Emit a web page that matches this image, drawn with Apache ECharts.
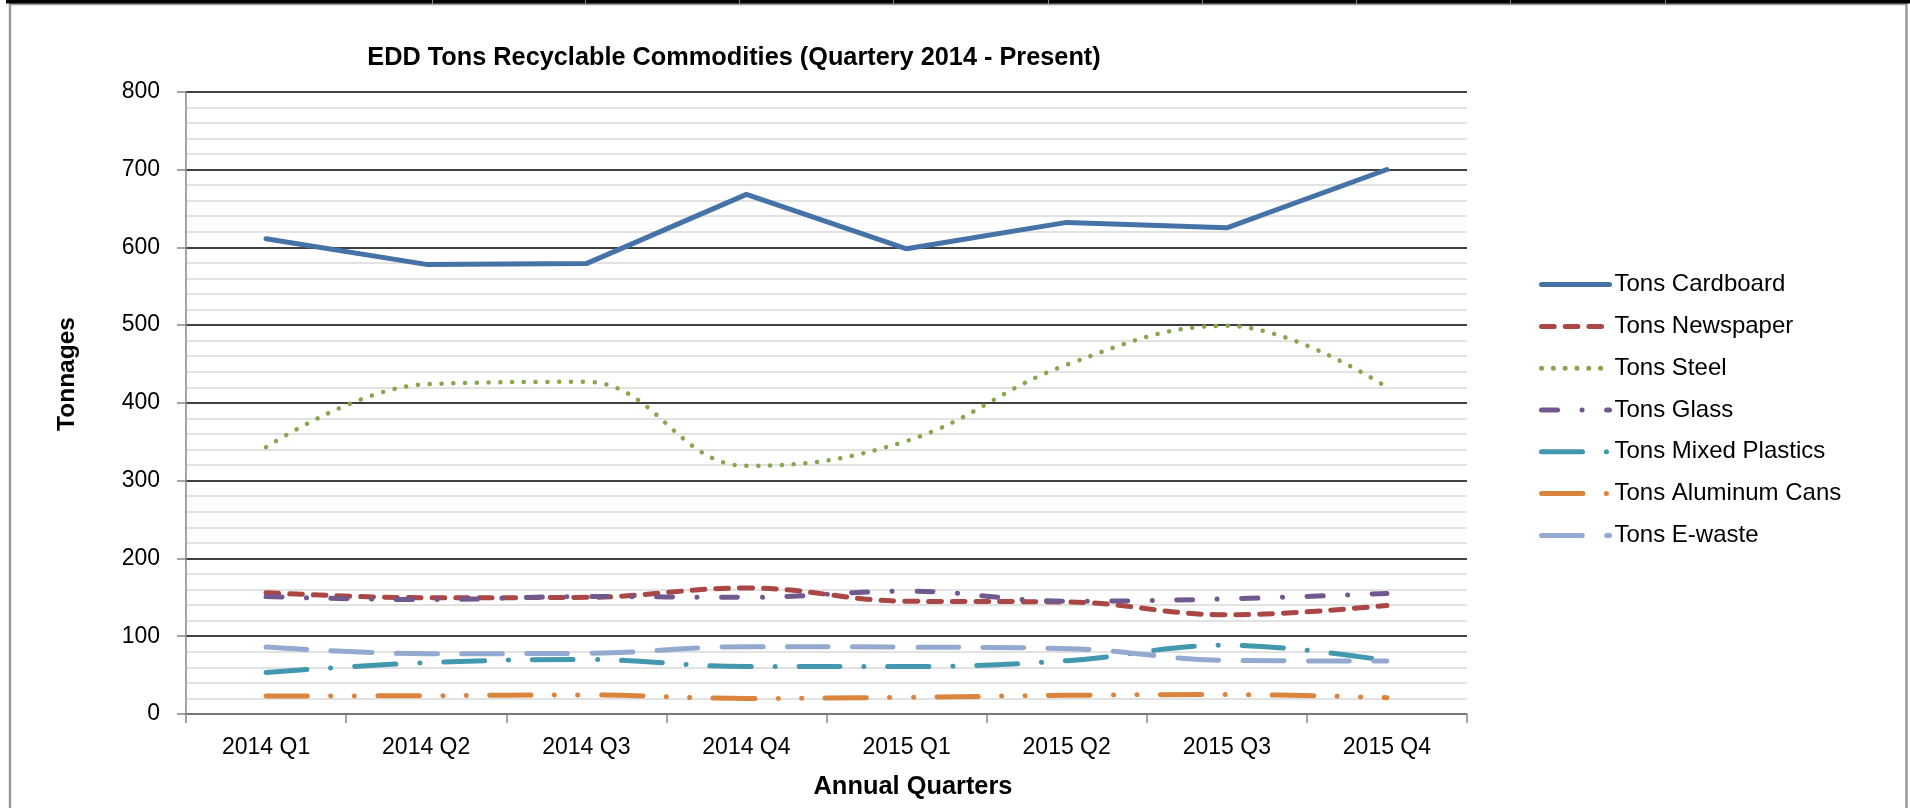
<!DOCTYPE html>
<html><head><meta charset="utf-8">
<script src="https://cdn.jsdelivr.net/npm/echarts@6/dist/echarts.min.js"></script>
<style>html,body{margin:0;padding:0;background:#fff;overflow:hidden}#c{width:1910px;height:808px}</style>
</head><body><div id="c"></div>
<script>
const categories = ['2014 Q1', '2014 Q2', '2014 Q3', '2014 Q4', '2015 Q1', '2015 Q2', '2015 Q3', '2015 Q4'];
const cardboard     = [611, 578, 579, 668, 598, 632, 625, 700];
const newspaper     = [156, 149.5, 150, 162, 145, 144, 127.5, 139.5];
const steel         = [343, 424, 427, 319, 351, 449, 499, 420];
const glass         = [151, 147, 151, 150, 158, 145, 148, 155];
const mixedPlastics = [53.5, 66, 70, 61, 61, 68.5, 88.5, 68.5];
const aluminumCans  = [23, 23.5, 24.5, 20, 21.5, 24, 25, 21];
const eWaste        = [86, 77.5, 78, 86.5, 86, 84, 69, 68];
const seriesNames = ['Tons Cardboard', 'Tons Newspaper', 'Tons Steel', 'Tons Glass', 'Tons Mixed Plastics', 'Tons Aluminum Cans', 'Tons E-waste'];
const yMin = 0, yMax = 800, yInterval = 100;
const titleText = 'EDD Tons Recyclable Commodities (Quartery 2014 - Present)';
const xAxisTitle = 'Annual Quarters';
const yAxisTitle = 'Tonnages';

const FONT = "'Liberation Sans', Arial, sans-serif";
const styles = [
  { color: '#4572A7', type: 'solid', width: 5, smooth: false },
  { color: '#AA4643', type: [12.7, 11], width: 5, smooth: 0.4 },
  { color: '#89A54E', type: [0.1, 11.7], width: 4.5, smooth: 0.4 },
  { color: '#71588F', type: [16, 24.5, 0.1, 24.5], width: 5, smooth: 0.4 },
  { color: '#4198AF', type: [41, 23.9, 0.1, 23.9], width: 5, smooth: 0.4 },
  { color: '#DB843D', type: [41.4, 23.4, 0.1, 23.4, 0.1, 23.4], width: 5, smooth: 0.4 },
  { color: '#93A9CF', type: [40.8, 24.4], width: 5, smooth: 0.4 }
];
const values = [cardboard, newspaper, steel, glass, mixedPlastics, aluminumCans, eWaste];

const series = values.map((v, i) => ({
  name: seriesNames[i],
  type: 'line',
  data: v,
  symbol: 'none',
  showSymbol: false,
  smooth: styles[i].smooth,
  color: styles[i].color,
  lineStyle: { color: styles[i].color, width: styles[i].width, type: styles[i].type, cap: 'round', join: 'round' },
  emphasis: { disabled: true },
  animation: false
}));

const topTicks = [432, 585, 739, 893, 1048, 1202, 1356, 1510, 1665];
const graphics = [
  { type: 'rect', shape: { x: 10, y: 4, width: 1896.5, height: 820 }, style: { fill: 'none', stroke: '#9a9a9a', lineWidth: 2.5 }, silent: true },
  { type: 'rect', shape: { x: 6, y: 0, width: 1904, height: 3.5 }, style: { fill: '#000' }, silent: true },
  ...topTicks.map(x => ({ type: 'rect', shape: { x: x, y: 0, width: 1, height: 4 }, style: { fill: '#888' }, silent: true })),
  { type: 'text', x: 67, y: 374, rotation: Math.PI / 2, style: { text: yAxisTitle, font: "bold 24.5px " + FONT, fill: '#000', align: 'center', verticalAlign: 'middle' }, silent: true },
  { type: 'text', x: 913, y: 787, style: { text: xAxisTitle, font: "bold 25.4px " + FONT, fill: '#000', align: 'center', verticalAlign: 'middle' }, silent: true }
];

const chart = echarts.init(document.getElementById('c'), null, { renderer: 'canvas' });
chart.setOption({
  backgroundColor: '#fff',
  animation: false,
  title: {
    text: titleText, left: 729, top: 41, textAlign: 'center',
    textStyle: { fontFamily: FONT, fontWeight: 'bold', fontSize: 25.3, color: '#000' }
  },
  grid: { left: 186, right: 443, top: 91.7, bottom: 94, containLabel: false },
  legend: {
    orient: 'vertical', left: 1539, top: 272.6, padding: 0,
    itemWidth: 68, itemHeight: 24, itemGap: 17.8,
    data: seriesNames,
    lineStyle: { width: 5 },
    itemStyle: { opacity: 0 },
    textStyle: { fontFamily: FONT, fontSize: 24, color: '#000', lineHeight: 24 },
    selectedMode: false
  },
  xAxis: {
    type: 'category', data: categories, boundaryGap: true, z: 1,
    axisLine: { show: true, lineStyle: { color: '#868686', width: 1.5 } },
    axisTick: { show: true, inside: false, length: 9, alignWithLabel: false, lineStyle: { color: '#868686', width: 1.5 } },
    axisLabel: { margin: 22, fontFamily: FONT, fontSize: 23, color: '#000', interval: 0 },
    splitLine: { show: false }
  },
  yAxis: {
    type: 'value', min: yMin, max: yMax, interval: yInterval, z: 0,
    axisLine: { show: true, lineStyle: { color: '#868686', width: 1.5 } },
    axisTick: { show: true, inside: false, length: 9, lineStyle: { color: '#868686', width: 1.5 } },
    axisLabel: { margin: 26, fontFamily: FONT, fontSize: 23, color: '#000' },
    splitLine: { show: true, lineStyle: { color: '#000', width: 1.5 } },
    minorTick: { show: false, splitNumber: 5 },
    minorSplitLine: { show: true, lineStyle: { color: '#D9D9D9', width: 1.5 } }
  },
  series: series,
  graphic: graphics
});
</script>
</body></html>
